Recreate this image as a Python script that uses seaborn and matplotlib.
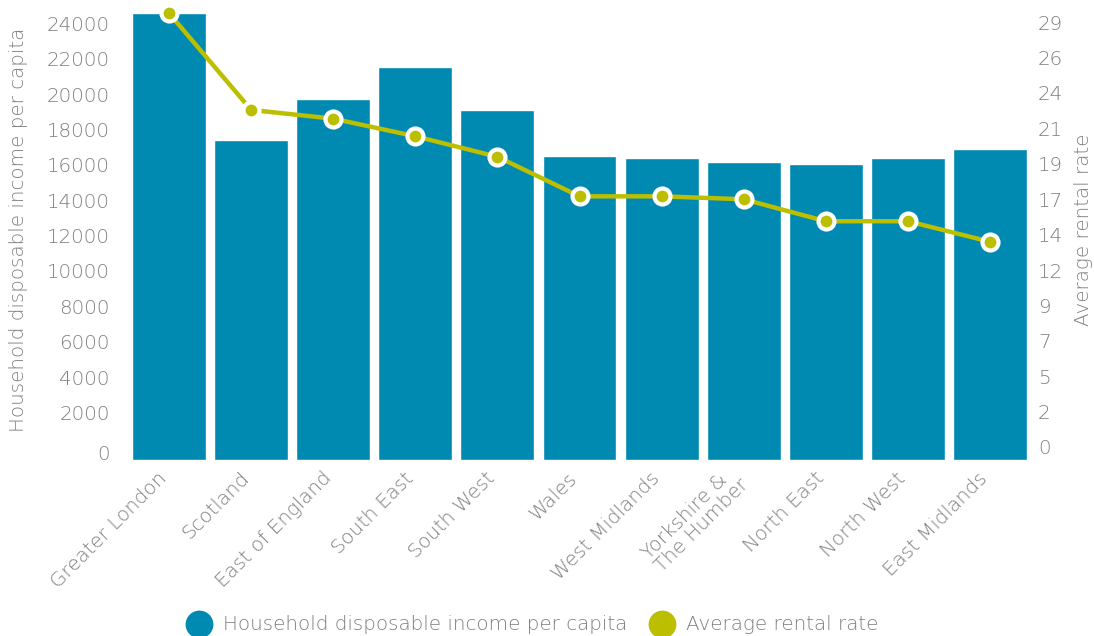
import numpy as np
import pandas as pd
import matplotlib
matplotlib.use("Agg")
import matplotlib.pyplot as plt
import matplotlib.transforms as mtransforms
from matplotlib.lines import Line2D
import seaborn as sns

# Regional income vs rent
regions = [
    "Greater London", "Scotland", "East of England", "South East", "South West",
    "Wales", "West Midlands", "Yorkshire &\nThe Humber", "North East",
    "North West", "East Midlands",
]
income = [25250, 18080, 20400, 22220, 19770, 17180, 17060, 16840, 16720, 17060, 17570]
rent = [30.5, 23.9, 23.3, 22.1, 20.7, 18.0, 18.0, 17.8, 16.3, 16.3, 14.9]

income_ticks = list(range(0, 24001, 2000))
rent_tick_labels = ["0", "2", "5", "7", "9", "12", "14", "17", "19", "21", "24", "26", "29"]

BAR = "#008ab2"
LINE = "#bcbe00"
TEXT = "#7f7f7f"
FS = 14.3

sns.set_theme(style="white")
plt.rcParams["font.family"] = ["DejaVu Sans"]
plt.rcParams["font.weight"] = 200
plt.rcParams["axes.labelweight"] = 200

W, H = 1094, 636
fig = plt.figure(figsize=(W / 100, H / 100), dpi=100)
ax = fig.add_axes([128 / W, 176 / H, (1031 - 128) / W, 460 / H])

df = pd.DataFrame({"region": regions, "income": income, "rent": rent})
sns.barplot(data=df, x="region", y="income", color=BAR, saturation=1,
            width=0.9, ax=ax)

# left scale: 2000 per 35.4 px, axis spans 460 px
income_top = 2000 * 460 / 35.4
ax.set_ylim(0, income_top)
ax.set_yticks(income_ticks)
ax.set_yticklabels([str(t) for t in income_ticks])

ax2 = ax.twinx()
rent_ticks = np.linspace(0, 29, len(rent_tick_labels))
ax2.set_ylim(0, income_top * 29 / 24000)
ax2.set_yticks(rent_ticks)
ax2.set_yticklabels(rent_tick_labels)

sns.lineplot(x=np.arange(len(regions)), y=rent, ax=ax2, color=LINE, lw=3.2,
             marker="o", markersize=11.5, markerfacecolor=LINE,
             markeredgecolor="white", markeredgewidth=3, clip_on=False,
             zorder=5)

ax.set_xlim(-0.5, len(regions) - 0.5)

for a in (ax, ax2):
    for s in a.spines.values():
        s.set_visible(False)
    a.grid(False)
    a.tick_params(length=0, colors=TEXT, labelsize=FS)

ax.tick_params(axis="y", pad=13)
ax2.tick_params(axis="y", pad=5)
ax.tick_params(axis="x", pad=11)

ax.set_xlabel("")
ax.set_ylabel("Household disposable income per capita", color=TEXT,
              fontsize=FS, labelpad=13.5)
ax2.set_ylabel("Average rental rate", color=TEXT, fontsize=FS, labelpad=8)

shift_left = mtransforms.ScaledTranslation(-5 / 100, 0, fig.dpi_scale_trans)
for lab in ax.get_xticklabels():
    lab.set_rotation(45)
    lab.set_ha("right")
    lab.set_va("center")
    lab.set_rotation_mode("anchor")
    lab.set_multialignment("left")
    lab.set_linespacing(1.0)
    lab.set_transform(lab.get_transform() + shift_left)

# lift the value labels slightly above their ticks
for i, t in enumerate(ax.yaxis.get_major_ticks()):
    dy = 7 if i == 0 else 12
    t.label1.set_transform(t.label1.get_transform() +
                           mtransforms.ScaledTranslation(0, dy / 100, fig.dpi_scale_trans))
for t in ax2.yaxis.get_major_ticks():
    t.label2.set_transform(t.label2.get_transform() +
                           mtransforms.ScaledTranslation(0, 13 / 100, fig.dpi_scale_trans))

handles = [
    Line2D([], [], ls="", marker="o", markersize=19, color=BAR),
    Line2D([], [], ls="", marker="o", markersize=19, color=LINE),
]
leg = fig.legend(handles, ["Household disposable income per capita", "Average rental rate"],
                 loc="center left", bbox_to_anchor=(175 / W, 11 / H), ncol=2,
                 frameon=False, borderpad=0, handlelength=1.4, handletextpad=0.5,
                 columnspacing=1.05, fontsize=FS)
for txt in leg.get_texts():
    txt.set_color(TEXT)

fig.savefig("out.png", dpi=100)
